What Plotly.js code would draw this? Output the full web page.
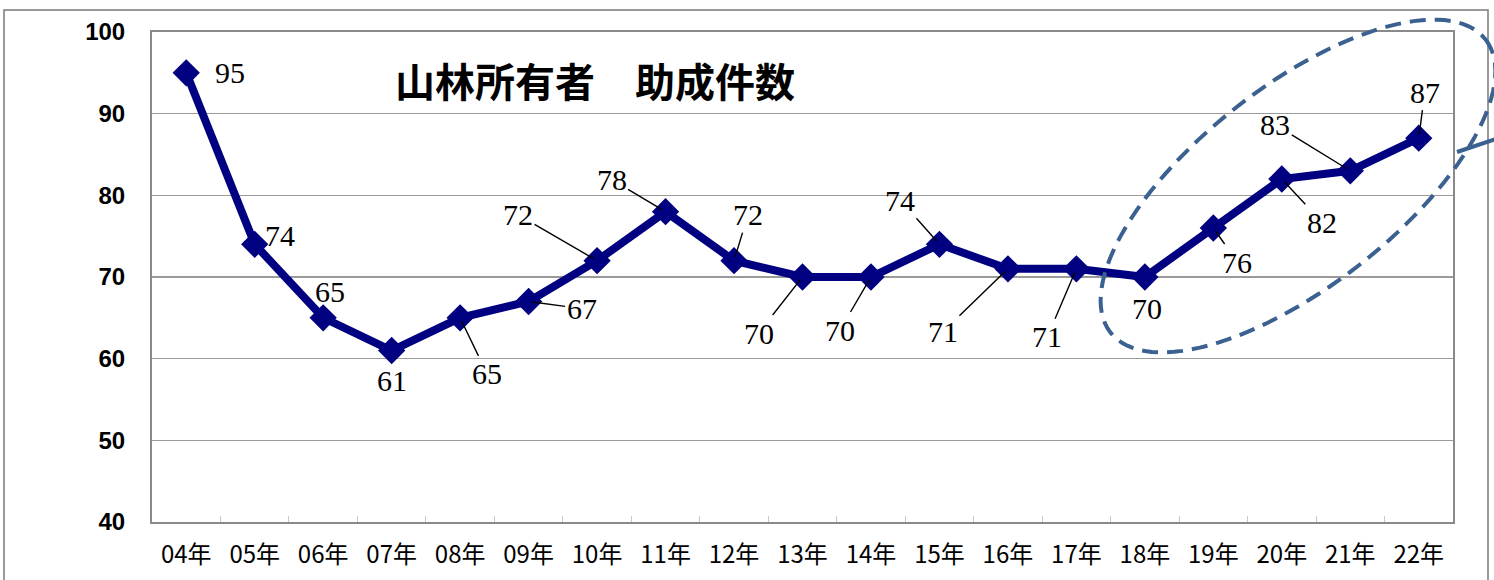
<!DOCTYPE html>
<html>
<head>
<meta charset="utf-8">
<script src="https://cdn.plot.ly/plotly-3.0.1.min.js"></script>
<style>html,body{margin:0;padding:0;background:#fff;}#chart{width:1494px;height:580px;}</style>
</head>
<body>
<div id="chart"></div>
<script>
// ---- data ----
const categories = ["04年","05年","06年","07年","08年","09年","10年","11年","12年","13年","14年","15年","16年","17年","18年","19年","20年","21年","22年"];
const counts = [95,74,65,61,65,67,72,78,72,70,70,74,71,71,70,76,82,83,87];
const titleText = "山林所有者　助成件数";

// ---- label placement (pixel offsets from point) and leader-line flags ----
const labelDx = [44, 25, 7, 0, 27, 53, -79, -54, 14, -44, -31, -39, -65, -29, 2, 24, 40, -75, 6];
const labelDy = [0, -9, -26, 30, 56, 7, -46, -32, -46, 56, 53, -44, 63, 68, 31, 34, 43, -46, -46];
const leader  = [0, 0, 0, 0, 1, 1, 1, 1, 1, 1, 1, 1, 1, 1, 0, 1, 1, 1, 1];

// ---- geometry helpers for decorative shapes (pixel -> paper) ----
const W = 1494, H = 580;
const M = {l:152, r:41, t:32, b:58};
const PW = W - M.l - M.r, PH = H - M.t - M.b;
const px = x => (x - M.l) / PW;
const py = y => (H - M.b - y) / PH;

// dashed ellipse (decoration)
const ell = {cx:1298, cy:186, a:238, b:100, ang:-38*Math.PI/180};
let pathPts = [];
for (let k = 0; k <= 120; k++) {
  const t = 2*Math.PI*k/120;
  const ex = ell.a*Math.cos(t), ey = ell.b*Math.sin(t);
  const X = ell.cx + ex*Math.cos(ell.ang) - ey*Math.sin(ell.ang);
  const Y = ell.cy + ex*Math.sin(ell.ang) + ey*Math.cos(ell.ang);
  pathPts.push((k===0?'M':'L') + px(X).toFixed(5) + ',' + py(Y).toFixed(5));
}
const ellPath = pathPts.join(' ') + ' Z';

const trace = {
  x: categories, y: counts, type: 'scatter', mode: 'lines+markers',
  line: {color: '#000080', width: 8},
  marker: {symbol: 'diamond', size: 21, color: '#000080'},
  cliponaxis: false, hoverinfo: 'skip'
};

const annotations = counts.map((v, i) => ({
  x: categories[i], y: v, xref: 'x', yref: 'y',
  text: String(v), showarrow: true,
  axref: 'pixel', ayref: 'pixel', ax: labelDx[i], ay: labelDy[i],
  arrowhead: 0, arrowwidth: 1.4,
  arrowcolor: leader[i] ? '#000' : 'rgba(0,0,0,0)',
  standoff: 4, startstandoff: 0,
  font: {family: '"Liberation Serif", "DejaVu Serif", serif', size: 30, color: '#000'}
}));
annotations.push({
  xref: 'paper', yref: 'paper', x: px(595), y: py(80), xanchor: 'center', yanchor: 'middle',
  text: '<b>' + titleText + '</b>', showarrow: false,
  font: {family: '"Noto Sans CJK JP", sans-serif', size: 40, color: '#000'}
});

const layout = {
  width: W, height: H,
  margin: M,
  paper_bgcolor: '#fff', plot_bgcolor: '#fff',
  showlegend: false,
  xaxis: {
    type: 'category', range: [-0.5, categories.length - 0.5], autorange: false,
    showgrid: false,
    showline: true, linecolor: '#8a8a8a', linewidth: 2, mirror: true,
    ticks: 'inside', tickson: 'boundaries', ticklen: 6, tickcolor: '#c8c8c8', tickwidth: 1,
    tickfont: {family: '"Noto Sans CJK JP", sans-serif', size: 24, color: '#000'},
    ticklabelstandoff: 10, zeroline: false
  },
  yaxis: {
    range: [40, 100], autorange: false, dtick: 10, tick0: 40,
    showgrid: true, gridcolor: '#9a9a9a', gridwidth: 1.5,
    showline: true, linecolor: '#8a8a8a', linewidth: 2, mirror: true,
    ticks: '', zeroline: false,
    tickfont: {family: '"Liberation Sans", Arial, sans-serif', size: 24, color: '#000', weight: 'bold'},
    ticklabelstandoff: 20
  },
  annotations: annotations,
  shapes: [
    {type: 'rect', xref: 'paper', yref: 'paper', x0: px(4), x1: px(1488), y0: py(600), y1: py(10),
     line: {color: '#7a7a7a', width: 1.5}, layer: 'below'},
    {type: 'path', xref: 'paper', yref: 'paper', path: ellPath,
     line: {color: '#3a6190', width: 4, dash: '16px,9px'}},
    {type: 'line', xref: 'paper', yref: 'paper', x0: px(1457), y0: py(152), x1: px(1496), y1: py(139),
     line: {color: '#3a6190', width: 4}}
  ]
};

Plotly.newPlot('chart', [trace], layout, {staticPlot: true, displayModeBar: false});
</script>
</body>
</html>
